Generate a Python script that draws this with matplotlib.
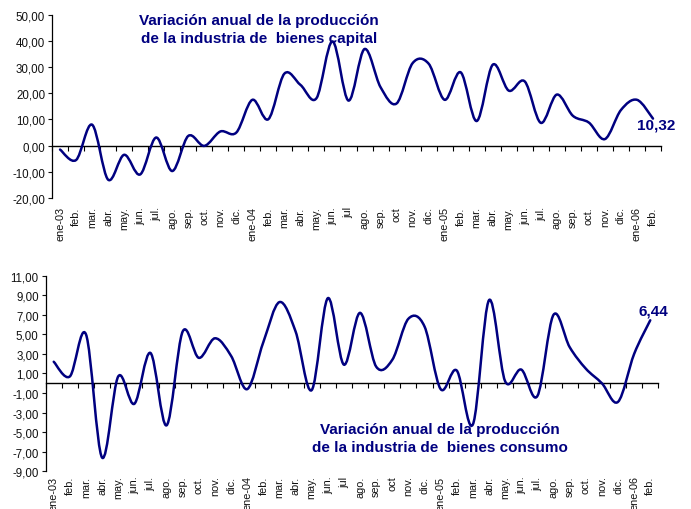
import numpy as np
import matplotlib
matplotlib.use("Agg")
import matplotlib.pyplot as plt
from matplotlib.path import Path
from matplotlib.patches import PathPatch
from matplotlib.ticker import FuncFormatter

plt.rcParams['font.family'] = ['Liberation Sans', 'DejaVu Sans']

# months ene-03 .. feb-06
months = ["ene-03", "feb.", "mar.", "abr.", "may.", "jun.", "jul.", "ago.", "sep.", "oct.", "nov.", "dic.",
          "ene-04", "feb.", "mar.", "abr.", "may.", "jun.", "jul", "ago.", "sep.", "oct", "nov.", "dic.",
          "ene-05", "feb.", "mar.", "abr.", "may.", "jun.", "jul.", "ago.", "sep.", "oct.", "nov.", "dic.",
          "ene-06", "feb."]

capital = [-1.5, -5.5, 8.0, -13.0, -3.5, -11.0, 3.1, -9.7, 3.7, -0.1, 5.4, 5.0,
           17.5, 10.1, 27.5, 23.2, 18.1, 39.8, 17.2, 36.9, 22.3, 16.1, 31.5, 31.3,
           17.5, 28.0, 9.4, 30.9, 21.0, 24.5, 8.7, 19.5, 11.4, 8.8, 2.5, 13.6,
           17.5, 10.32]

consumo = [2.2, 0.7, 5.0, -7.6, 0.7, -2.1, 3.1, -4.3, 5.3, 2.6, 4.6, 2.8,
           -0.6, 4.2, 8.3, 5.3, -0.7, 8.7, 1.9, 7.2, 1.7, 2.4, 6.6, 5.8,
           -0.6, 1.3, -4.2, 8.5, 0.2, 1.4, -1.3, 7.0, 3.7, 1.5, 0.0, -1.9,
           3.0, 6.44]

NAVY = '#000080'


def smooth_path(vals):
    # excel-like smoothed line: cubic bezier through every point
    x = np.arange(len(vals), dtype=float)
    y = np.asarray(vals, dtype=float)
    pts = np.column_stack([x, y])
    n = len(pts)
    verts = [pts[0]]
    codes = [Path.MOVETO]
    for i in range(n - 1):
        p0 = pts[max(i - 1, 0)]
        p1 = pts[i]
        p2 = pts[i + 1]
        p3 = pts[min(i + 2, n - 1)]
        c1 = p1 + (p2 - p0) / 6.0
        c2 = p2 - (p3 - p1) / 6.0
        verts += [c1, c2, p2]
        codes += [Path.CURVE4] * 3
    return Path(verts, codes)


def setup(ax, vals, ymin, ymax, step, xpad):
    n = len(vals)
    ax.add_patch(PathPatch(smooth_path(vals), fill=False, edgecolor=NAVY, lw=1.8,
                           capstyle='round', joinstyle='round'))
    ax.set_xlim(-0.5, n - 0.5)
    ax.set_ylim(ymin, ymax)
    ax.set_yticks(np.arange(ymin, ymax + 0.01, step))
    ax.yaxis.set_major_formatter(FuncFormatter(lambda v, p: f"{v:.2f}".replace('.', ',')))
    ax.tick_params(axis='y', labelsize=8.3, length=3, width=0.8, pad=2, colors='#111111')
    for s in ['top', 'right', 'bottom']:
        ax.spines[s].set_visible(False)
    ax.spines['left'].set_linewidth(0.9)
    ax.set_xticks(np.arange(n))
    ax.set_xticklabels(months, rotation=90, fontsize=7.8, color='#111111')
    ax.tick_params(axis='x', length=0, pad=xpad)
    # zero line with tick marks between categories
    zero = (0 - ymin) / (ymax - ymin)
    sec = ax.secondary_xaxis(zero)
    sec.set_xticks(np.arange(-0.5, n, 1.0))
    sec.tick_params(axis='x', direction='out', length=3.5, width=0.8, labelbottom=False,
                    labeltop=False)
    sec.spines['bottom'].set_linewidth(1.0)
    sec.spines['top'].set_visible(False)
    sec.xaxis.set_ticks_position('bottom')
    sec.set_xticklabels([])


fig = plt.figure(figsize=(6.91, 5.10), dpi=100)
ax1 = fig.add_axes([0.0753, 0.6098, 0.8813, 0.3594])
ax2 = fig.add_axes([0.0661, 0.0739, 0.8866, 0.3836])

setup(ax1, capital, -20, 50, 10, 6)
setup(ax2, consumo, -9, 11, 2, 3)

fig.text(259 / 691, 1 - 30 / 510, "Variación anual de la producción\nde la industria de  bienes capital",
         ha='center', va='center', fontsize=11, fontweight='bold', color=NAVY, linespacing=1.3)
fig.text(440 / 691, 1 - 439 / 510, "Variación anual de la producción\nde la industria de  bienes consumo",
         ha='center', va='center', fontsize=11, fontweight='bold', color=NAVY, linespacing=1.3)

fig.text(656 / 691, 1 - 126 / 510, "10,32", ha='center', va='center', fontsize=11,
         fontweight='bold', color=NAVY)
fig.text(653 / 691, 1 - 312 / 510, "6,44", ha='center', va='center', fontsize=11,
         fontweight='bold', color=NAVY)

fig.savefig("out.png", dpi=100)
